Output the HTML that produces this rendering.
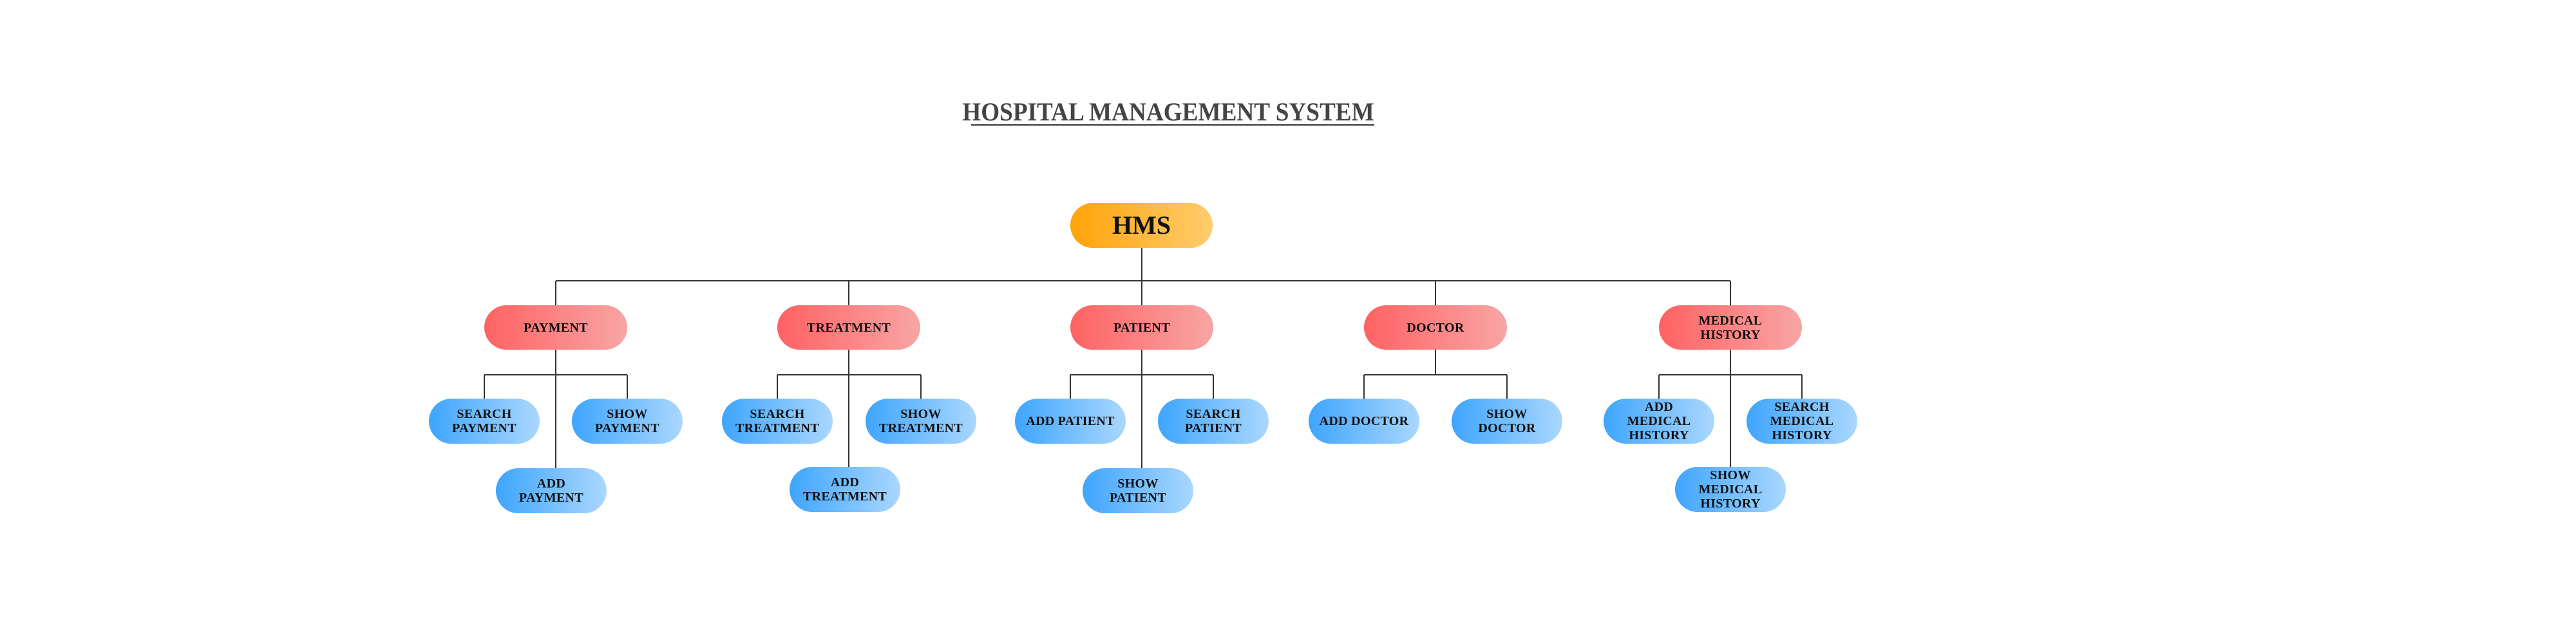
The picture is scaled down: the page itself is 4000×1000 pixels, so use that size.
<!DOCTYPE html>
<html><head><meta charset="utf-8"><style>
html,body{margin:0;padding:0;background:#fff;}
body{width:4000px;height:1000px;position:relative;overflow:hidden;font-family:"Liberation Serif",serif;}
.n{position:absolute;display:flex;align-items:center;justify-content:center;text-align:center;font-weight:bold;color:#111;border-radius:35px;font-size:20px;line-height:22px;letter-spacing:0.3px;}
.r{background:linear-gradient(90deg,#ff6262,#f8a5a5);width:222px;height:69px;top:474px;}
.b{background:linear-gradient(90deg,#3ea5fd,#aad7ff);width:172px;height:70px;}
.t{position:absolute;left:1314px;top:150px;width:1000px;text-align:center;font-size:40px;font-weight:bold;color:#444;white-space:nowrap;transform:scaleX(0.93);transform-origin:50% 50%;}
.u{position:absolute;left:1508px;top:193px;width:626px;height:2px;background:#333;}
</style></head><body>
<div class="t">HOSPITAL MANAGEMENT SYSTEM</div>
<div class="u"></div>
<svg width="4000" height="1000" style="position:absolute;left:0;top:0" stroke="#333" stroke-width="2" fill="none">
<path d="M1773 385V474M863 436H2687M863 436V474M1318 436V474M2229 436V474M2687 436V474"/>
<path d="M863 543V727M752 582H974M752 582V619M974 582V619"/>
<path d="M1318 543V727M1207 582H1430M1207 582V619M1430 582V619"/>
<path d="M1773 543V727M1662 582H1884M1662 582V619M1884 582V619"/>
<path d="M2229 543V582M2118 582H2340M2118 582V619M2340 582V619"/>
<path d="M2687 543V727M2576 582H2798M2576 582V619M2798 582V619"/>
</svg>
<div class="n" style="left:1662px;top:315px;width:221px;height:70px;background:linear-gradient(90deg,#ffa308,#ffcc6e);font-size:40px;letter-spacing:0;">HMS</div>

<div class="n r" style="left:752px">PAYMENT</div>
<div class="n r" style="left:1207px">TREATMENT</div>
<div class="n r" style="left:1662px">PATIENT</div>
<div class="n r" style="left:2118px">DOCTOR</div>
<div class="n r" style="left:2576px">MEDICAL<br>HISTORY</div>

<div class="n b" style="left:666px;top:619px">SEARCH<br>PAYMENT</div>
<div class="n b" style="left:888px;top:619px">SHOW<br>PAYMENT</div>
<div class="n b" style="left:770px;top:727px">ADD<br>PAYMENT</div>

<div class="n b" style="left:1121px;top:619px">SEARCH<br>TREATMENT</div>
<div class="n b" style="left:1344px;top:619px">SHOW<br>TREATMENT</div>
<div class="n b" style="left:1226px;top:725px">ADD<br>TREATMENT</div>

<div class="n b" style="left:1576px;top:619px">ADD PATIENT</div>
<div class="n b" style="left:1798px;top:619px">SEARCH<br>PATIENT</div>
<div class="n b" style="left:1681px;top:727px">SHOW<br>PATIENT</div>

<div class="n b" style="left:2032px;top:619px">ADD DOCTOR</div>
<div class="n b" style="left:2254px;top:619px">SHOW<br>DOCTOR</div>

<div class="n b" style="left:2490px;top:619px">ADD<br>MEDICAL<br>HISTORY</div>
<div class="n b" style="left:2712px;top:619px">SEARCH<br>MEDICAL<br>HISTORY</div>
<div class="n b" style="left:2601px;top:725px">SHOW<br>MEDICAL<br>HISTORY</div>
</body></html>
